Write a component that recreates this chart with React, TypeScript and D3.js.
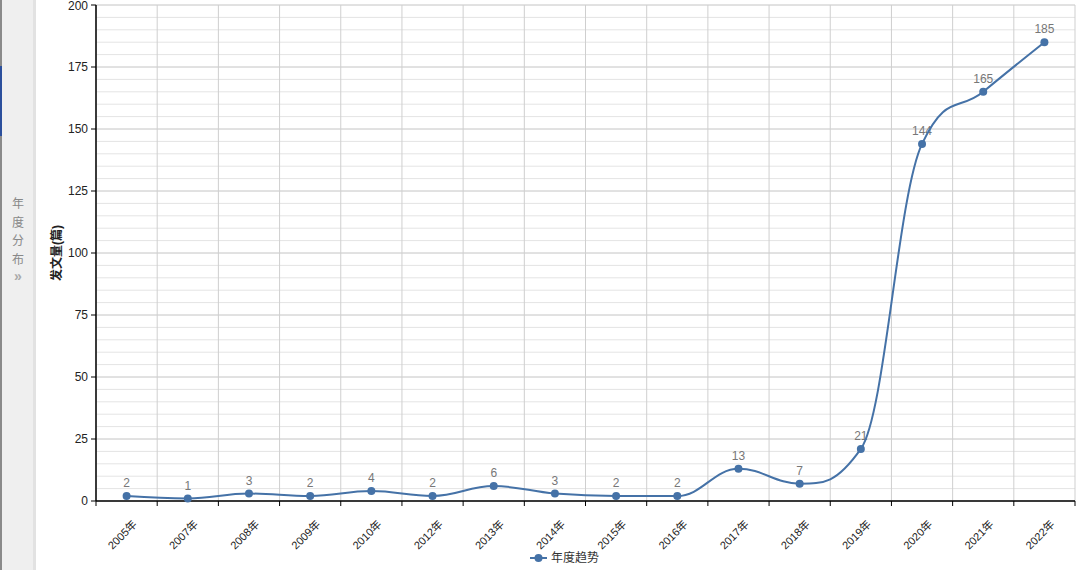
import React from "react";
import * as d3 from "d3";

const categories = ["2005年","2007年","2008年","2009年","2010年","2012年","2013年","2014年","2015年","2016年","2017年","2018年","2019年","2020年","2021年","2022年"];
const values = [2,1,3,2,4,2,6,3,2,2,13,7,21,144,165,185];
const yMajorTicks = [0,25,50,75,100,125,150,175,200];
const seriesName = "年度趋势";
const yTitle = "发文量(篇)";
const sideText = ["年","度","分","布"];

const W = 1080, H = 570;
const M = { left: 96, right: 1075, top: 5, bottom: 501 };
const FONT = "'Liberation Sans', 'Noto Sans CJK SC', sans-serif";
const LINE = "#4572A7";

// Highcharts-style spline as a d3 curve factory
function HcSpline(this: any, context: any) { this._context = context; }
HcSpline.prototype = {
  areaStart() {}, areaEnd() {},
  lineStart() { this._pts = []; },
  point(x: number, y: number) { this._pts.push([+x, +y]); },
  lineEnd() {
    const p = this._pts, ctx = this._context;
    if (!p.length) return;
    const s = 1.5, den = s + 1;
    const rc: ([number, number] | null)[] = p.map(() => null);
    ctx.moveTo(p[0][0], p[0][1]);
    for (let i = 1; i < p.length; i++) {
      const [x, y] = p[i];
      const [lx, ly] = p[i - 1];
      let lcx = x, lcy = y;
      if (i < p.length - 1) {
        const [nx, ny] = p[i + 1];
        lcx = (s * x + lx) / den; lcy = (s * y + ly) / den;
        let rcx = (s * x + nx) / den, rcy = (s * y + ny) / den;
        let corr = 0;
        if (rcx !== lcx) corr = ((rcy - lcy) * (rcx - x)) / (rcx - lcx) + y - rcy;
        lcy += corr; rcy += corr;
        if (lcy > ly && lcy > y) { lcy = Math.max(ly, y); rcy = 2 * y - lcy; }
        else if (lcy < ly && lcy < y) { lcy = Math.min(ly, y); rcy = 2 * y - lcy; }
        if (rcy > ny && rcy > y) { rcy = Math.max(ny, y); lcy = 2 * y - rcy; }
        else if (rcy < ny && rcy < y) { rcy = Math.min(ny, y); lcy = 2 * y - rcy; }
        rc[i] = [rcx, rcy];
      }
      const prev = rc[i - 1] || p[i - 1];
      ctx.bezierCurveTo(prev[0], prev[1], lcx, lcy, x, y);
    }
  },
};
const curveHc: any = (context: any) => new (HcSpline as any)(context);

export default function App() {
  const x = d3.scaleBand().domain(categories).range([M.left, M.right]).padding(0);
  const y = d3.scaleLinear().domain([0, 200]).range([M.bottom, M.top]);
  const cx = (c: string) => (x(c) as number) + x.bandwidth() / 2;
  const pts = categories.map((c, i) => ({ c, v: values[i] }));
  const line = d3.line<any>().x(d => cx(d.c)).y(d => y(d.v)).curve(curveHc);
  const minor = d3.range(0, 201, 5).filter(v => v % 25 !== 0);
  const bounds = [...categories.map(c => x(c) as number), M.right];

  return (
    <div style={{ position: "fixed", left: 0, top: 0, width: W, height: H, background: "#fff" }}>
      <svg width={W} height={H} style={{ display: "block", fontFamily: FONT }}>
        {/* side panel */}
        <rect x={0} y={0} width={36} height={H} fill="#efefef" />
        <rect x={33} y={0} width={3} height={H} fill="#e2e2e2" />
        <rect x={0} y={0} width={2} height={H} fill="#8a8a8a" />
        <rect x={0} y={66} width={2} height={70} fill="#2b4f9c" />
        {sideText.map((t, i) => (
          <text key={t} x={18} y={208 + i * 18.5} fontSize={12} fill="#888" textAnchor="middle">{t}</text>
        ))}
        <text x={18} y={281} fontSize={14} fontWeight="bold" fill="#aaa" textAnchor="middle">»</text>

        {/* grid */}
        {minor.map(v => (
          <line key={"m" + v} x1={M.left} x2={M.right} y1={y(v)} y2={y(v)} stroke="#e4e4e4" strokeWidth={1} />
        ))}
        {yMajorTicks.map(v => (
          <line key={"g" + v} x1={M.left} x2={M.right} y1={y(v)} y2={y(v)} stroke="#c4c4c4" strokeWidth={1} />
        ))}
        {bounds.map((b, i) => (
          <line key={"v" + i} x1={b} x2={b} y1={M.top} y2={M.bottom} stroke="#cfcfcf" strokeWidth={1} />
        ))}

        {/* axes */}
        <line x1={M.left} x2={M.left} y1={M.top} y2={M.bottom} stroke="#000" strokeWidth={1.5} />
        <line x1={M.left} x2={M.right} y1={M.bottom} y2={M.bottom} stroke="#000" strokeWidth={1.5} />
        {yMajorTicks.map(v => (
          <g key={"yt" + v}>
            <line x1={M.left - 5} x2={M.left} y1={y(v)} y2={y(v)} stroke="#000" />
            <text x={M.left - 8} y={Math.max(y(v) + 4, 10)} fontSize={12} fill="#222" textAnchor="end">{v}</text>
          </g>
        ))}
        {bounds.map((b, i) => (
          <line key={"xt" + i} x1={b} x2={b} y1={M.bottom} y2={M.bottom + 5} stroke="#000" />
        ))}
        {categories.map(c => (
          <text key={"xl" + c} transform={`translate(${cx(c) + 11},${M.bottom + 24}) rotate(-45)`} fontSize={11} fill="#222" textAnchor="end">{c}</text>
        ))}
        <text transform={`translate(61,${(M.top + M.bottom) / 2}) rotate(-90)`} fontSize={12} fontWeight="bold" fill="#222" textAnchor="middle">{yTitle}</text>

        {/* data labels */}
        {pts.map(d => (
          <text key={"dl" + d.c} x={cx(d.c)} y={y(d.v) - 9} fontSize={12} fill="#777" textAnchor="middle">{d.v}</text>
        ))}

        {/* series */}
        <path d={line(pts) as string} fill="none" stroke={LINE} strokeWidth={2} />
        {pts.map(d => (
          <circle key={"pt" + d.c} cx={cx(d.c)} cy={y(d.v)} r={4} fill={LINE} />
        ))}

        {/* legend */}
        <line x1={530} x2={547} y1={558} y2={558} stroke={LINE} strokeWidth={2} />
        <circle cx={538.5} cy={558} r={4} fill={LINE} />
        <text x={551} y={562} fontSize={12} fill="#333">{seriesName}</text>
      </svg>
    </div>
  );
}
